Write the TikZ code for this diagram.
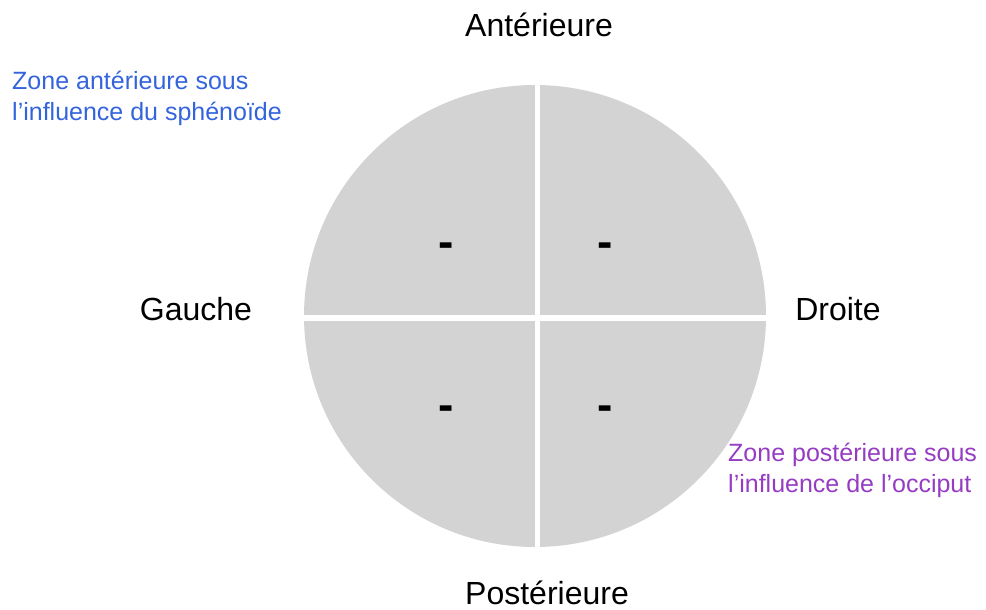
\documentclass[tikz,border=0pt]{standalone}
\usepackage{fontspec}
\setmainfont{Liberation Sans}
\definecolor{quad}{RGB}{211,211,211}
\definecolor{antblue}{RGB}{52,100,220}
\definecolor{postpurple}{RGB}{150,60,195}
\tikzset{
  axislabel/.style={font=\fontsize{32}{38}\selectfont, inner sep=0pt, anchor=base},
  note/.style={font=\fontsize{25}{31}\selectfont, inner sep=0pt, anchor=base west, align=left},
  sign/.style={font=\fontsize{46}{46}\selectfont\bfseries, inner sep=0pt},
  gap/.style={white, line width=5.5pt}
}
\begin{document}
\begin{tikzpicture}[x=1pt,y=-1pt]
\useasboundingbox (0,0) rectangle (986,610);
\fill[quad] (535,316) circle (231);
\coordinate (vt) at (537.5,80);
\coordinate (vb) at (537.5,552);
\coordinate (hl) at (298,318);
\coordinate (hr) at (772,318);
\draw[gap] (vt) -- (vb);
\draw[gap] (hl) -- (hr);
\node[sign] (s1) at (446,250) {-};
\node[sign] (s2) at (605,250) {-};
\node[sign] (s3) at (446,413) {-};
\node[sign] (s4) at (605,413) {-};
\node[axislabel] (ant) at (539,37) {Antérieure};
\node[axislabel] (post) at (547,604) {Postérieure};
\node[axislabel] (gau) at (196,320) {Gauche};
\node[axislabel] (dro) at (838,320) {Droite};
\node[note, text=antblue] (za) at (12,121) {Zone antérieure sous\\l’influence du sphénoïde};
\node[note, text=postpurple] (zp) at (728,492) {Zone postérieure sous\\l’influence de l’occiput};
\end{tikzpicture}
\end{document}
